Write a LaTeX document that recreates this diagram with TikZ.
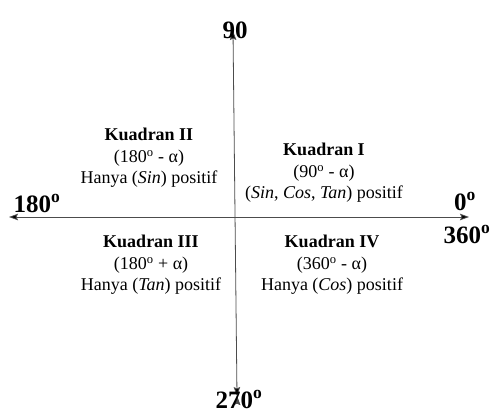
\documentclass[tikz,border=0pt]{standalone}
\usepackage{fontspec}
\setmainfont{Liberation Serif}
\usepackage{tikz}
\usetikzlibrary{
        arrows.meta,
        positioning
    }
\tikzset{>={Stealth[length=9pt,width=6.5pt,inset=1.5pt]},auto}
\tikzset{sumbu/.style={<->,draw=black!70,line width=0.8pt}}
\tikzset{sudut/.style={font=\bfseries\fontsize{25}{25}\selectfont,inner sep=0pt,anchor=base}}
\tikzset{kuadran/.style={align=center,inner sep=0pt,font=\fontsize{18}{21.5}\selectfont}}

\begin{document}
\begin{tikzpicture}[x=1pt,y=-1pt]
                \useasboundingbox (0,0) rectangle (500,415);
                \coordinate (atas)  at (233,31);
                \coordinate (bawah) at (237,396);
                \coordinate (kiri)  at (9,217);
                \coordinate (kanan) at (469,217);
                \path[sumbu]
                    (kiri)  edge (kanan)
                    (bawah) edge (atas)
                    ;
                \node[sudut] (s90)  at (235,38)  {90};
                \node[sudut] (s180) at (37,212)  {180\textsuperscript{o}};
                \node[sudut] (s0)   at (465,210) {0\textsuperscript{o}};
                \node[sudut] (s360) at (467,243) {360\textsuperscript{o}};
                \node[sudut] (s270) at (239,408) {270\textsuperscript{o}};
                \node[kuadran] (k2) at (149,158) {\textbf{Kuadran II}\\(180\textsuperscript{o} - α)\\Hanya (\textit{Sin}) positif};
                \node[kuadran] (k1) at (324,173) {\textbf{Kuadran I}\\(90\textsuperscript{o} - α)\\(\textit{Sin}, \textit{Cos}, \textit{Tan}) positif};
                \node[kuadran] (k3) at (151,265) {\textbf{Kuadran III}\\(180\textsuperscript{o} + α)\\Hanya (\textit{Tan}) positif};
                \node[kuadran] (k4) at (332,265) {\textbf{Kuadran IV}\\(360\textsuperscript{o} - α)\\Hanya (\textit{Cos}) positif};
            \end{tikzpicture}
\end{document}
